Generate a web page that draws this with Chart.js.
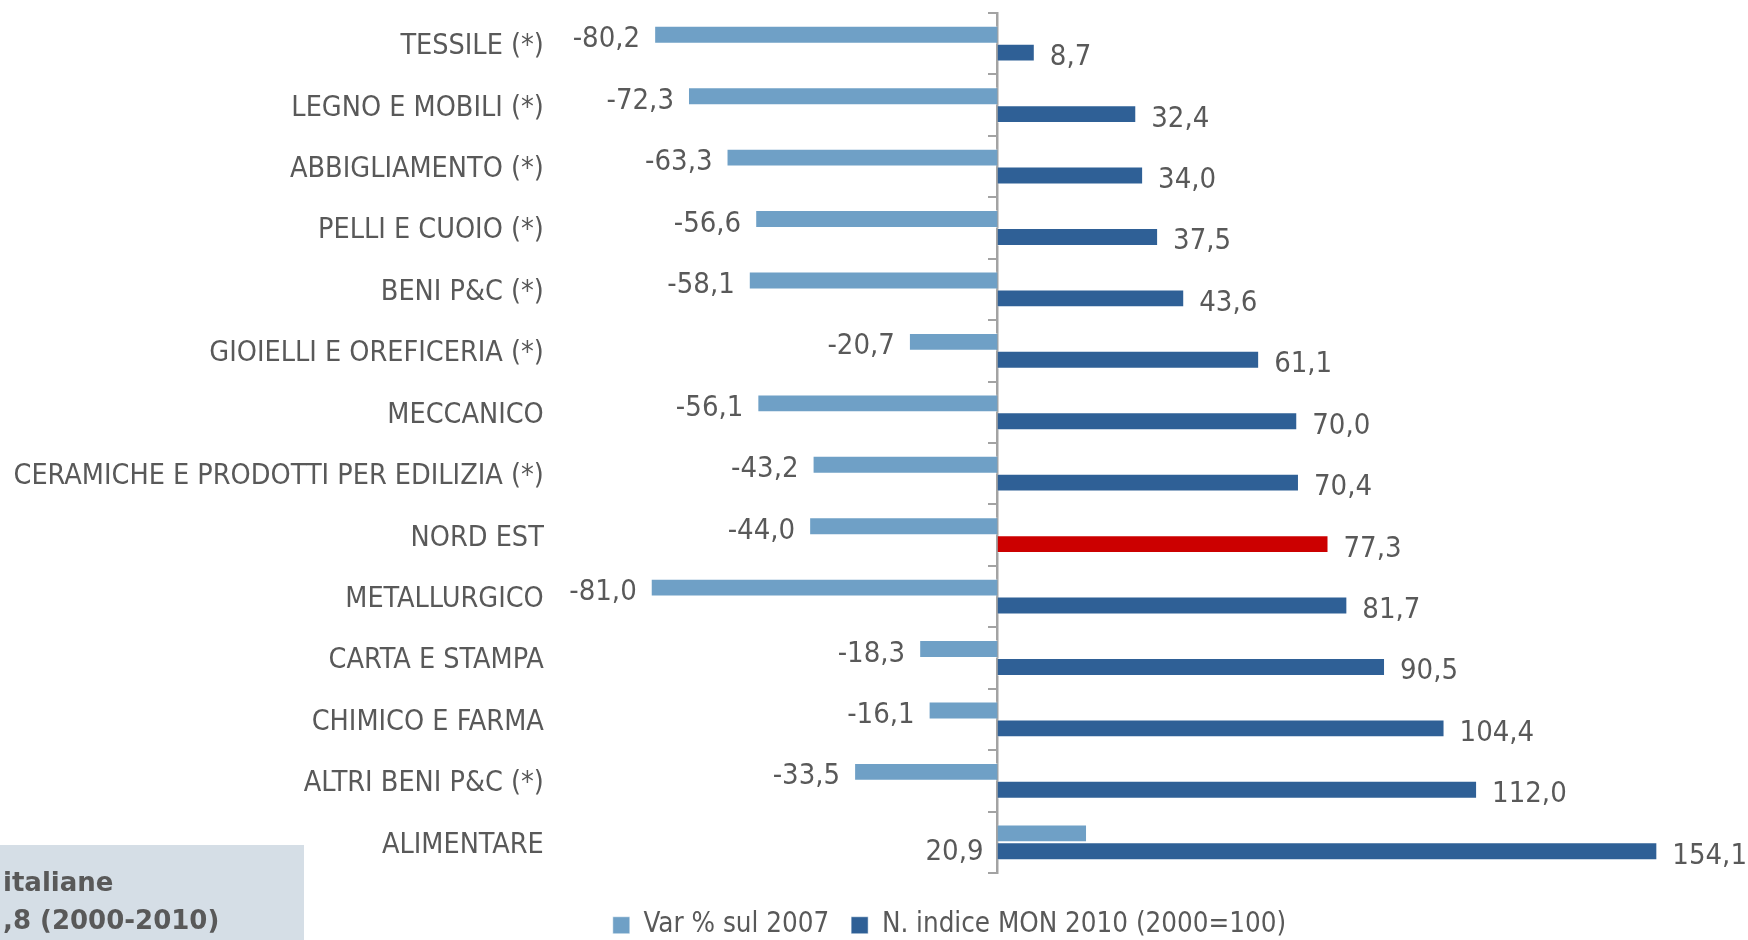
<!DOCTYPE html>
<html>
<head>
<meta charset="utf-8">
<script src="https://cdn.jsdelivr.net/npm/chart.js@4.4.0/dist/chart.umd.min.js"></script>
<style>
html, body { margin: 0; padding: 0; background: #ffffff; }
#contenitore { width: 1748px; height: 940px; position: relative; }
</style>
</head>
<body>
<div id="contenitore"><canvas id="grafico"></canvas></div>
<script>
// dati
const settori = [
    'TESSILE (*)',
    'LEGNO E MOBILI (*)',
    'ABBIGLIAMENTO (*)',
    'PELLI E CUOIO (*)',
    'BENI P&C (*)',
    'GIOIELLI E OREFICERIA (*)',
    'MECCANICO',
    'CERAMICHE E PRODOTTI PER EDILIZIA (*)',
    'NORD EST',
    'METALLURGICO',
    'CARTA E STAMPA',
    'CHIMICO E FARMA',
    'ALTRI BENI P&C (*)',
    'ALIMENTARE'
];
const varSul2007 = [-80.2, -72.3, -63.3, -56.6, -58.1, -20.7, -56.1, -43.2, -44.0, -81.0, -18.3, -16.1, -33.5, 20.9];
const indiceMon2010 = [8.7, 32.4, 34.0, 37.5, 43.6, 61.1, 70.0, 70.4, 77.3, 81.7, 90.5, 104.4, 112.0, 154.1];
const nomiSerie = ['Var % sul 2007', 'N. indice MON 2010 (2000=100)'];
const settoreEvidenziato = 'NORD EST';

// stile
const coloreChiaro = '#6FA0C6';
const coloreScuro = '#2F6096';
const coloreRosso = '#CC0000';
const coloreTesto = '#595959';
const coloreAsse = '#A3A3A3';
const fontEtichette = "'DejaVu Sans Condensed', 'DejaVu Sans', sans-serif";

function formatta(v) {
    return v.toFixed(1).replace('.', ',');
}

// etichette dei valori accanto alle barre
const etichetteValori = {
    id: 'etichetteValori',
    afterDatasetsDraw(chart) {
        const ctx = chart.ctx;
        ctx.save();
        ctx.font = '29px ' + fontEtichette;
        ctx.fillStyle = coloreTesto;
        ctx.textBaseline = 'middle';
        chart.data.datasets.forEach((ds, i) => {
            const meta = chart.getDatasetMeta(i);
            meta.data.forEach((barra, j) => {
                const v = ds.data[j];
                if (i === 0) {
                    ctx.textAlign = 'right';
                    if (v < 0) {
                        ctx.fillText(formatta(v), barra.x - 14, barra.y + 5);
                    } else {
                        ctx.fillText(formatta(v), barra.base - 14, barra.y + barra.height * 0.9 + 3);
                    }
                } else {
                    ctx.textAlign = 'left';
                    ctx.fillText(formatta(v), barra.x + 15, barra.y + 5);
                }
            });
        });
        ctx.restore();
    }
};

// riquadro tagliato in basso a sinistra
const riquadro = {
    id: 'riquadro',
    beforeDraw(chart) {
        const ctx = chart.ctx;
        ctx.save();
        ctx.fillStyle = '#D5DEE6';
        ctx.fillRect(0, 845, 304, 95);
        ctx.fillStyle = coloreTesto;
        ctx.font = "bold 26px 'DejaVu Sans', sans-serif";
        ctx.textAlign = 'left';
        ctx.textBaseline = 'middle';
        ctx.fillText('italiane', 3, 884);
        ctx.fillText(',8 (2000-2010)', 3, 922);
        ctx.restore();
    }
};

const ctx = document.getElementById('grafico').getContext('2d');
const grafico = new Chart(ctx, {
    type: 'bar',
    data: {
        labels: settori,
        datasets: [
            {
                label: nomiSerie[0],
                data: varSul2007,
                backgroundColor: coloreChiaro,
                borderColor: 'rgba(255,255,255,0.5)',
                borderWidth: 1
            },
            {
                label: nomiSerie[1],
                data: indiceMon2010,
                backgroundColor: (c) => settori[c.dataIndex] === settoreEvidenziato ? coloreRosso : coloreScuro,
                borderColor: 'rgba(255,255,255,0.5)',
                borderWidth: 1
            }
        ]
    },
    options: {
        indexAxis: 'y',
        responsive: true,
        maintainAspectRatio: false,
        animation: false,
        devicePixelRatio: 1,
        categoryPercentage: 0.582,
        barPercentage: 1,
        layout: {
            padding: { top: 13, left: 0, right: 44, bottom: -9 }
        },
        scales: {
            x: {
                type: 'linear',
                min: -95,
                max: 165,
                grid: { display: false },
                border: { display: false },
                ticks: { display: false },
                afterFit: (s) => { s.height = 16.5; }
            },
            y: {
                type: 'category',
                position: 'left',
                grid: { display: false, drawTicks: false },
                border: { display: false },
                ticks: {
                    color: coloreTesto,
                    font: { family: fontEtichette, size: 28.5 },
                    padding: 47,
                    labelOffset: 3,
                    autoSkip: false
                },
                afterFit: (s) => {
                    s.width = 590.8;
                    s.paddingTop = 0;
                    s.paddingBottom = 0;
                }
            },
            asse: {
                axis: 'y',
                type: 'category',
                position: { x: 0 },
                offset: true,
                grid: {
                    offset: true,
                    drawOnChartArea: false,
                    tickLength: 8,
                    color: coloreAsse,
                    lineWidth: 2
                },
                border: { color: coloreAsse, width: 2.5 },
                ticks: { display: false },
                afterFit: (s) => {
                    s.paddingTop = 0;
                    s.paddingBottom = 0;
                }
            }
        },
        plugins: {
            legend: {
                position: 'bottom',
                align: 'start',
                fullSize: false,
                labels: {
                    boxWidth: 17,
                    boxHeight: 17,
                    padding: 22,
                    color: coloreTesto,
                    font: { family: fontEtichette, size: 27.5 }
                }
            },
            tooltip: { enabled: false }
        }
    },
    plugins: [etichetteValori, riquadro]
});
</script>
</body>
</html>
